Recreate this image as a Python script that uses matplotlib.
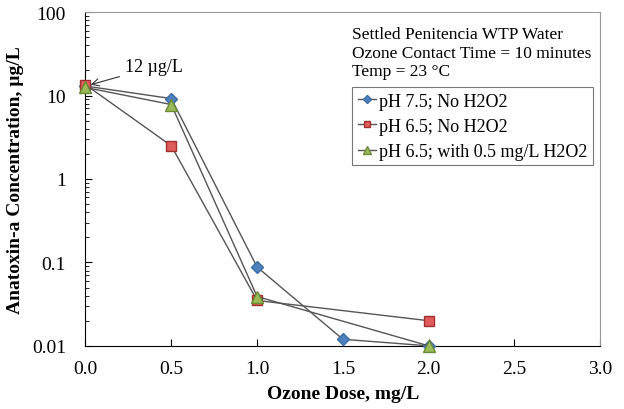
import matplotlib
matplotlib.use('Agg')
import matplotlib.pyplot as plt

plt.rcParams['font.family'] = 'Liberation Serif'

dose = [0.0, 0.5, 1.0, 1.5, 2.0]
dose_red = [0.0, 0.5, 1.0, 2.0]
dose_green = [0.0, 0.5, 1.0, 2.0]

ph75_no = [13, 9.2, 0.088, 0.012, 0.010]
ph65_no = [13.5, 2.5, 0.035, 0.020]
ph65_h2o2 = [12.5, 7.8, 0.039, 0.010]

xticks = [0.0, 0.5, 1.0, 1.5, 2.0, 2.5, 3.0]
yticks = [0.01, 0.1, 1, 10, 100]
ylabels = ['0.01', '0.1', '1', '10', '100']

fig = plt.figure(figsize=(6.24, 4.10), dpi=100)
ax = fig.add_axes([0.137, 0.154, 0.825, 0.814])

ax.plot(dose, ph75_no, color='#555555', lw=1, marker='D', ms=6,
        mfc='#4f81bd', mec='#3a6ea5', clip_on=False, zorder=3, label='pH 7.5; No H2O2')
ax.plot(dose_red, ph65_no, color='#555555', lw=1, marker='s', ms=6.5,
        mfc='#e05c5c', mec='#a03030', clip_on=False, zorder=3, label='pH 6.5; No H2O2')
ax.plot(dose_green, ph65_h2o2, color='#555555', lw=1, marker='^', ms=8,
        mfc='#9bbb59', mec='#6b8a35', clip_on=False, zorder=3, label='pH 6.5; with 0.5 mg/L H2O2')

ax.set_yscale('log')
ax.set_xlim(0, 3)
ax.set_ylim(0.01, 100)
ax.set_xticks(xticks)
ax.set_xticklabels(['%.1f' % t for t in xticks])
ax.set_yticks(yticks)
ax.set_yticklabels(ylabels)
ax.tick_params(direction='in', labelsize=14, length=5)
ax.tick_params(axis='y', which='minor', direction='in', length=3)
ax.tick_params(axis='x', pad=10)
ax.tick_params(axis='y', pad=14)
for s in ['top', 'right']:
    ax.spines[s].set_color('#999999')

ax.set_xlabel('Ozone Dose, mg/L', fontsize=14, fontweight='bold', labelpad=6)
ax.set_ylabel('Anatoxin-a Concentration, µg/L', fontsize=14, fontweight='bold', labelpad=6)

ax.annotate('12 µg/L', xy=(0.03, 13.5), xytext=(0.23, 22), fontsize=13,
            va='center', arrowprops=dict(arrowstyle='->', color='#333333', lw=0.8,
                                         shrinkA=2, shrinkB=0))

ax.text(0.517, 0.958, 'Settled Penitencia WTP Water\nOzone Contact Time = 10 minutes\nTemp = 23 °C',
        transform=ax.transAxes, fontsize=12.5, va='top', linespacing=1.2)

leg = ax.legend(loc='upper left', bbox_to_anchor=(0.518, 0.775), fontsize=13,
                frameon=True, fancybox=False, edgecolor='#555555', borderaxespad=0,
                handlelength=1.0, handletextpad=0.2, borderpad=0.3,
                labelspacing=0.45, markerscale=0.75)
leg.get_frame().set_linewidth(0.8)

fig.savefig('out.png', dpi=100)
